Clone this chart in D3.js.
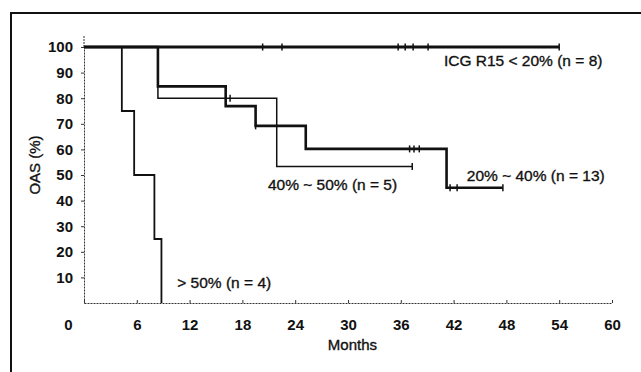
<!DOCTYPE html>
<head>
    <meta charset="utf-8">
    <script src="https://d3js.org/d3.v7.min.js"></script>
    <style>
        body { margin: 0; background: #fff; }
        text { font-family: "Liberation Sans", Arial, sans-serif; fill: #111; }
    </style>
</head>
<body>
<svg width="641" height="372"></svg>

<script>

    // axis ticks
    var monthTicks = [0, 6, 12, 18, 24, 30, 36, 42, 48, 54, 60];
    var oasTicks = [10, 20, 30, 40, 50, 60, 70, 80, 90, 100];

    // ICG R15 < 20% (n = 8)
    var lowTimes = [0, 54];
    var lowSurv = [100, 100];
    var lowCensor = [20.3, 22.5, 35.7, 36.5, 37.4, 39.1, 54];

    // 20% ~ 40% (n = 13)
    var midTimes = [0, 8.4, 16.1, 19.5, 25.2, 41.2, 47.6];
    var midSurv = [100, 84.6, 76.9, 69.2, 60.2, 45, 45];
    var midCensor = [19.5, 37, 37.5, 38.1, 41.6, 42.4, 47.6];

    // 40% ~ 50% (n = 5)
    var highTimes = [0, 8.4, 21.9, 37.3];
    var highSurv = [100, 80, 53.3, 53.3];
    var highCensor = [16.6, 37.3];

    // > 50% (n = 4)
    var topTimes = [0, 4.3, 5.7, 8.0, 8.8];
    var topSurv = [100, 75, 50, 25, 0];

    var svg = d3.select("svg");

    var x = d3.scaleLinear()
        .domain([0, 60])
        .range([84, 612]);

    var y = d3.scaleLinear()
        .domain([0, 100])
        .range([303, 47]);

    // outer frame (top + left, the rest is cropped)
    svg.append("path")
        .attr("d", "M11,372V13H641")
        .attr("fill", "none")
        .attr("stroke", "#111")
        .attr("stroke-width", 2);

    // x axis
    var xAxis = svg.append("g")
        .attr("transform", "translate(0," + y(0) + ")")
        .call(d3.axisBottom(x).tickValues(monthTicks).tickSize(-3).tickSizeOuter(0).tickPadding(16));
    xAxis.select(".domain").attr("stroke", "#333").attr("stroke-dasharray", "2,1");
    xAxis.selectAll(".tick line").attr("stroke", "#333");
    xAxis.selectAll("text")
        .attr("font-size", 15)
        .attr("font-weight", "bold")
        .style("font-family", "Liberation Sans, Arial, sans-serif")
        .attr("fill", "#111");
    xAxis.selectAll(".tick").filter(function(d) { return d === 0; })
        .select("text").attr("x", -16);

    // y axis
    var yAxis = svg.append("g")
        .attr("transform", "translate(" + x(0) + ",0)")
        .call(d3.axisLeft(y).tickValues(oasTicks).tickSize(3).tickSizeOuter(0).tickPadding(8));
    yAxis.select(".domain").attr("stroke", "#333").attr("stroke-dasharray", "2,1");
    yAxis.selectAll(".tick line").attr("stroke", "#333");
    yAxis.selectAll("text")
        .attr("font-size", 15)
        .attr("font-weight", "bold")
        .style("font-family", "Liberation Sans, Arial, sans-serif")
        .attr("fill", "#111");
    yAxis.append("line")
        .attr("y1", y(100)).attr("y2", 35)
        .attr("stroke", "#333").attr("stroke-dasharray", "2,1");

    svg.append("text")
        .attr("x", x(30.5))
        .attr("y", 350)
        .attr("text-anchor", "middle")
        .attr("font-size", 15)
        .attr("stroke", "#111")
        .attr("stroke-width", 0.35)
        .text("Months");

    svg.append("text")
        .attr("transform", "translate(40," + 165 + ") rotate(-90)")
        .attr("text-anchor", "middle")
        .attr("font-size", 15)
        .attr("stroke", "#111")
        .attr("stroke-width", 0.35)
        .text("OAS (%)");

    // survival curves
    var line = d3.line()
        .x(function(d) { return x(d[0]); })
        .y(function(d) { return y(d[1]); })
        .curve(d3.curveStepAfter);

    function drawCurve(times, surv, censor, width) {
        var pts = d3.zip(times, surv);
        svg.append("path")
            .datum(pts)
            .attr("d", line)
            .attr("fill", "none")
            .attr("stroke", "#111")
            .attr("stroke-width", width);
        // censor ticks
        svg.append("g").selectAll("line")
            .data(censor)
            .enter()
            .append("line")
            .attr("x1", function(d) { return x(d); })
            .attr("x2", function(d) { return x(d); })
            .attr("y1", function(d) { return y(survAt(d)) - 3.5; })
            .attr("y2", function(d) { return y(survAt(d)) + 3.5; })
            .attr("stroke", "#111")
            .attr("stroke-width", 1.5);

        function survAt(t) {
            var s = surv[0];
            for (var i = 0; i < times.length; i++) {
                if (times[i] <= t) s = surv[i];
            }
            return s;
        }
    }

    drawCurve(highTimes, highSurv, highCensor, 1.5);
    drawCurve(topTimes, topSurv, [], 1.8);
    drawCurve(midTimes, midSurv, midCensor, 2.6);
    drawCurve(lowTimes, lowSurv, lowCensor, 2.8);

    // curve labels
    var labels = [
        {t: "ICG R15 < 20% (n = 8)", m: 40.9, v: 92.6},
        {t: "20% ~ 40% (n = 13)", m: 43.5, v: 47.8},
        {t: "40% ~ 50% (n = 5)", m: 20.9, v: 44},
        {t: "> 50% (n = 4)", m: 10.6, v: 5.9}
    ];
    svg.selectAll("labels")
        .data(labels)
        .enter()
        .append("text")
        .attr("x", function(d) { return x(d.m); })
        .attr("y", function(d) { return y(d.v); })
        .attr("font-size", 15.5)
        .attr("stroke", "#111")
        .attr("stroke-width", 0.35)
        .text(function(d) { return d.t; });

</script>
</body>
